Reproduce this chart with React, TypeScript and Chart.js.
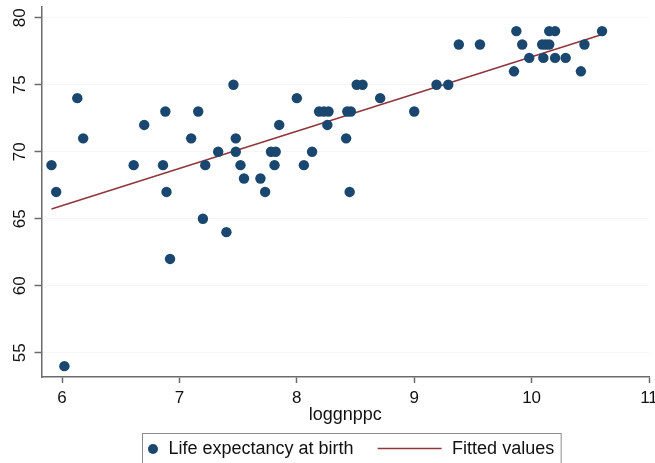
import React, { useEffect, useRef } from "react";
import { Chart, registerables } from "chart.js";

Chart.register(...registerables);

// Scatter data: log GNP per capita vs life expectancy at birth
const logGnpPc = [
  5.91, 5.95, 6.02, 6.13, 6.18, 6.61, 6.7, 6.86, 6.88, 6.89, 6.92, 7.1, 7.16, 7.2, 7.22, 7.33,
  7.4, 7.46, 7.48, 7.48, 7.52, 7.55, 7.69, 7.73, 7.78, 7.82, 7.81, 7.85, 8.0, 8.06, 8.13, 8.19,
  8.23, 8.27, 8.26, 8.42, 8.43, 8.46, 8.45, 8.51, 8.56, 8.71, 9.0, 9.19, 9.29, 9.38, 9.56, 9.85,
  9.87, 9.92, 9.98, 10.09, 10.12, 10.15, 10.1, 10.15, 10.2, 10.2, 10.29, 10.42, 10.45, 10.6,
];
const lifeExp = [
  69, 67, 54, 74, 71, 69, 72, 69, 73, 67, 62, 71, 73, 65, 69, 70,
  64, 75, 71, 70, 69, 68, 68, 67, 70, 70, 69, 72, 74, 69, 70, 73,
  73, 73, 72, 71, 73, 73, 67, 75, 75, 74, 73, 75, 75, 78, 78, 76,
  79, 78, 77, 78, 78, 78, 77, 79, 79, 77, 77, 76, 78, 79,
];
// Fitted regression line (at its ends)
const fitX = [5.91, 10.6];
const fitY = [65.72, 78.75];

const xTicks = [6, 7, 8, 9, 10, 11];
const yTicks = [55, 60, 65, 70, 75, 80];

const seriesLabels = ["Life expectancy at birth", "Fitted values"];
const xTitle = "loggnppc";

const MARKER = "#1a476f";
const FITLINE = "#90353b";
const AXIS = "#6b6b6b";
const FONT = '"Liberation Sans", Arial, sans-serif';

const yLabelPlugin = {
  id: "yRotatedLabels",
  afterDraw(chart: any) {
    const s = chart.scales.y;
    const ctx = chart.ctx;
    ctx.save();
    ctx.font = `17px ${FONT}`;
    ctx.fillStyle = "#111";
    ctx.textAlign = "center";
    ctx.textBaseline = "middle";
    for (const v of yTicks) {
      const p = s.getPixelForValue(v);
      ctx.save();
      ctx.translate(20.5, p);
      ctx.rotate(-Math.PI / 2);
      ctx.fillText(String(v), 0, 0);
      ctx.restore();
    }
    ctx.restore();
  },
};

const legendPlugin = {
  id: "stataLegend",
  afterDraw(chart: any) {
    const ctx = chart.ctx;
    ctx.save();
    ctx.font = `18px ${FONT}`;
    const w1 = ctx.measureText(seriesLabels[0]).width;
    const w2 = ctx.measureText(seriesLabels[1]).width;
    const left = 142.5;
    const top = 433.5;
    const cy = 449;
    const markerX = left + 10.5;
    const t1 = left + 26;
    const lineStart = t1 + w1 + 24;
    const lineEnd = lineStart + 64;
    const t2 = lineEnd + 10.5;
    const right = t2 + w2 + 7;
    ctx.strokeStyle = "#8a8a8a";
    ctx.lineWidth = 1;
    ctx.strokeRect(left, top, right - left, 60);
    ctx.fillStyle = MARKER;
    ctx.beginPath();
    ctx.arc(markerX, cy, 5, 0, Math.PI * 2);
    ctx.fill();
    ctx.strokeStyle = FITLINE;
    ctx.lineWidth = 1.5;
    ctx.beginPath();
    ctx.moveTo(lineStart, cy - 0.5);
    ctx.lineTo(lineEnd, cy - 0.5);
    ctx.stroke();
    ctx.fillStyle = "#111";
    ctx.textAlign = "left";
    ctx.textBaseline = "middle";
    ctx.fillText(seriesLabels[0], t1, cy);
    ctx.fillText(seriesLabels[1], t2, cy);
    ctx.restore();
  },
};

export default function App() {
  const ref = useRef<HTMLCanvasElement | null>(null);
  useEffect(() => {
    if (!ref.current) return;
    const scatter = logGnpPc.map((x, i) => ({ x, y: lifeExp[i] }));
    const fit = fitX.map((x, i) => ({ x, y: fitY[i] }));
    const chart = new Chart(ref.current, {
      type: "scatter",
      data: {
        datasets: [
          {
            label: seriesLabels[0],
            data: scatter,
            backgroundColor: MARKER,
            borderColor: MARKER,
            borderWidth: 0,
            pointRadius: 5.2,
            pointHoverRadius: 5.2,
          },
          {
            label: seriesLabels[1],
            type: "line",
            data: fit,
            borderColor: FITLINE,
            backgroundColor: FITLINE,
            borderWidth: 1.5,
            pointRadius: 0,
            fill: false,
          } as any,
        ],
      },
      options: {
        animation: false,
        responsive: false,
        maintainAspectRatio: false,
        layout: { padding: { left: 0, right: 6, top: 7, bottom: 35 } },
        plugins: { legend: { display: false }, tooltip: { enabled: false } },
        scales: {
          x: {
            type: "linear",
            min: 5.825,
            max: 11,
            afterBuildTicks: (s: any) => {
              s.ticks = xTicks.map((v) => ({ value: v }));
            },
            afterFit: (s: any) => {
              s.height = 51;
              s.paddingLeft = 0;
              s.paddingRight = 0;
            },
            ticks: {
              autoSkip: false,
              maxRotation: 0,
              minRotation: 0,
              padding: 5,
              color: "#111",
              font: { family: FONT, size: 17 },
            },
            grid: {
              drawOnChartArea: false,
              drawTicks: true,
              tickLength: 6,
              tickColor: AXIS,
              tickWidth: 1.5,
            },
            border: { display: true, color: AXIS, width: 1.5 },
            title: {
              display: true,
              text: xTitle,
              color: "#111",
              font: { family: FONT, size: 18 },
              padding: { top: 0, bottom: 2 },
            },
          },
          y: {
            type: "linear",
            min: 53.19,
            max: 80.8,
            afterBuildTicks: (s: any) => {
              s.ticks = yTicks.map((v) => ({ value: v }));
            },
            afterFit: (s: any) => {
              s.width = 41.5;
              s.paddingTop = 0;
              s.paddingBottom = 0;
            },
            ticks: { display: false },
            grid: {
              drawOnChartArea: true,
              color: "rgba(0,0,0,0.035)",
              lineWidth: 1,
              drawTicks: true,
              tickLength: 7,
              tickColor: AXIS,
              tickWidth: 1.5,
            },
            border: { display: true, color: AXIS, width: 1.5 },
          },
        },
      },
      plugins: [yLabelPlugin, legendPlugin],
    });
    return () => chart.destroy();
  }, []);
  return (
    <div style={{ position: "absolute", left: 0, top: 0, width: 655, height: 463, background: "#fff" }}>
      <canvas ref={ref} width={655} height={463} style={{ display: "block" }} />
    </div>
  );
}
